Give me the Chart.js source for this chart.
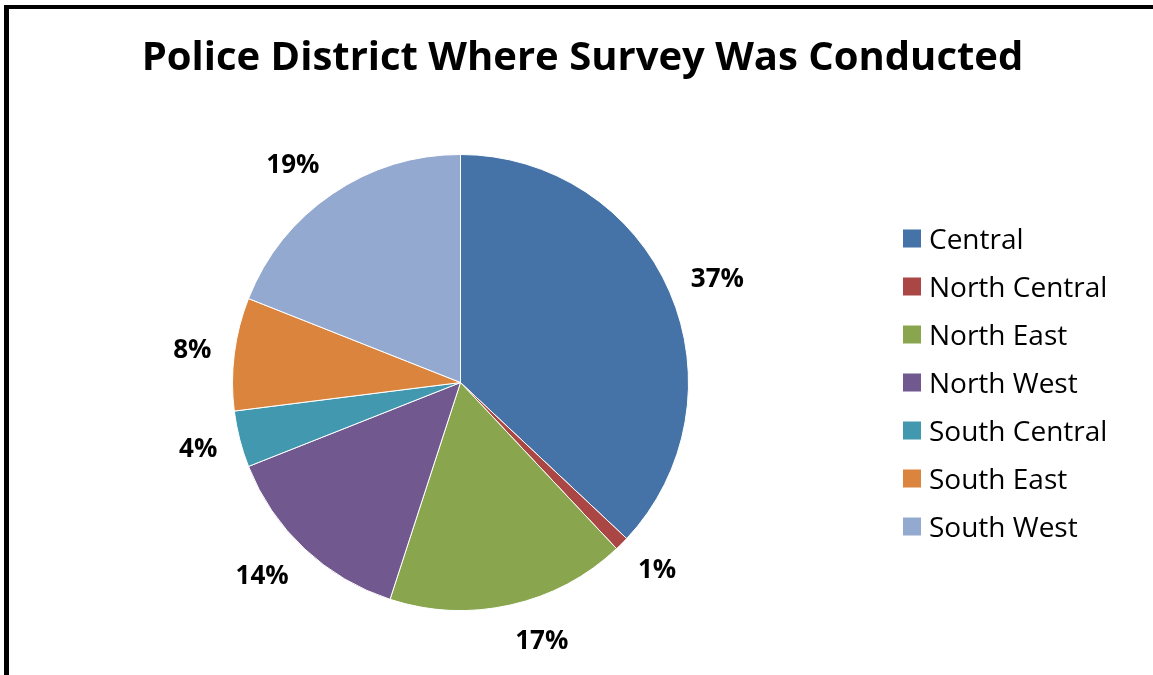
<!DOCTYPE html>
<html>
<head>
<meta charset="utf-8">
<script src="https://cdn.jsdelivr.net/npm/chart.js@4"></script>
<style>
  html, body { margin: 0; padding: 0; background: #fff; }
  #wrap { position: relative; width: 1153px; height: 675px; overflow: hidden; background: #fff; }
  #frame { position: absolute; left: 4px; top: 5px; width: 1300px; height: 800px;
           border-left: 5px solid #000; border-top: 4px solid #000; box-sizing: border-box; }
  canvas { position: absolute; left: 0; top: 0; }
</style>
</head>
<body>
<div id="wrap">
  <div id="frame"></div>
  <canvas id="chart" width="1153" height="675"></canvas>
</div>
<script>
// Survey share by police district (percent of surveys)
const districts = ['Central', 'North Central', 'North East', 'North West', 'South Central', 'South East', 'South West'];
const shares = [37, 1, 17, 14, 4, 8, 19];
const sliceColors = ['#4572A7', '#AA4643', '#89A54E', '#71588F', '#4198AF', '#DB843D', '#93A9CF'];
const chartTitle = 'Police District Where Survey Was Conducted';

const FONT = '"Open Sans", Lato, sans-serif';

// Title centred over the framed panel
const titlePlugin = {
  id: 'panelTitle',
  afterDraw(chart) {
    const ctx = chart.ctx;
    ctx.save();
    ctx.fillStyle = '#000';
    ctx.font = 'bold 40px ' + FONT;
    ctx.textAlign = 'center';
    ctx.textBaseline = 'alphabetic';
    ctx.fillText(chartTitle, 582.5, 70);
    ctx.restore();
  }
};

// Percent labels outside each slice
const outsideLabels = {
  id: 'outsideLabels',
  afterDatasetsDraw(chart) {
    const ctx = chart.ctx;
    const meta = chart.getDatasetMeta(0);
    const values = chart.data.datasets[0].data;
    ctx.save();
    ctx.fillStyle = '#000';
    ctx.font = 'bold 26px ' + FONT;
    ctx.textAlign = 'center';
    ctx.textBaseline = 'alphabetic';
    meta.data.forEach((arc, i) => {
      const p = arc.getProps(['x', 'y', 'startAngle', 'endAngle', 'outerRadius'], true);
      const mid = (p.startAngle + p.endAngle) / 2;
      const ux = Math.cos(mid), uy = Math.sin(mid);
      const text = values[i] + '%';
      const w = ctx.measureText(text).width;
      const h = 26;
      const R = p.outerRadius + 23;
      const cx = p.x + R * ux + (w / 2) * Math.sign(ux);
      const cy = p.y + R * uy + (h / 2) * uy;
      ctx.fillText(text, cx, cy + 9);
    });
    ctx.restore();
  }
};

// Legend column to the right of the pie
const sideLegend = {
  id: 'sideLegend',
  afterDraw(chart) {
    const ctx = chart.ctx;
    const labels = chart.data.labels;
    const colors = chart.data.datasets[0].backgroundColor;
    const area = chart.chartArea;
    const rowGap = 48;
    const midY = (area.top + area.bottom) / 2;
    const firstY = midY - rowGap * (labels.length - 1) / 2;
    ctx.save();
    ctx.font = '28px ' + FONT;
    ctx.textAlign = 'left';
    ctx.textBaseline = 'alphabetic';
    labels.forEach((lab, i) => {
      const yc = firstY + i * rowGap;
      ctx.fillStyle = colors[i];
      ctx.fillRect(903, yc - 9, 18, 18);
      ctx.fillStyle = '#000';
      ctx.fillText(lab, 929, yc + 10);
    });
    ctx.restore();
  }
};

new Chart(document.getElementById('chart'), {
  type: 'pie',
  data: {
    labels: districts,
    datasets: [{
      data: shares,
      backgroundColor: sliceColors,
      borderColor: '#ffffff',
      borderWidth: 1
    }]
  },
  options: {
    responsive: false,
    animation: false,
    events: [],
    layout: { padding: { left: 232, right: 464, top: 154, bottom: 64 } },
    plugins: {
      legend: { display: false },
      title: { display: false },
      tooltip: { enabled: false }
    }
  },
  plugins: [titlePlugin, outsideLabels, sideLegend]
});
</script>
</body>
</html>
